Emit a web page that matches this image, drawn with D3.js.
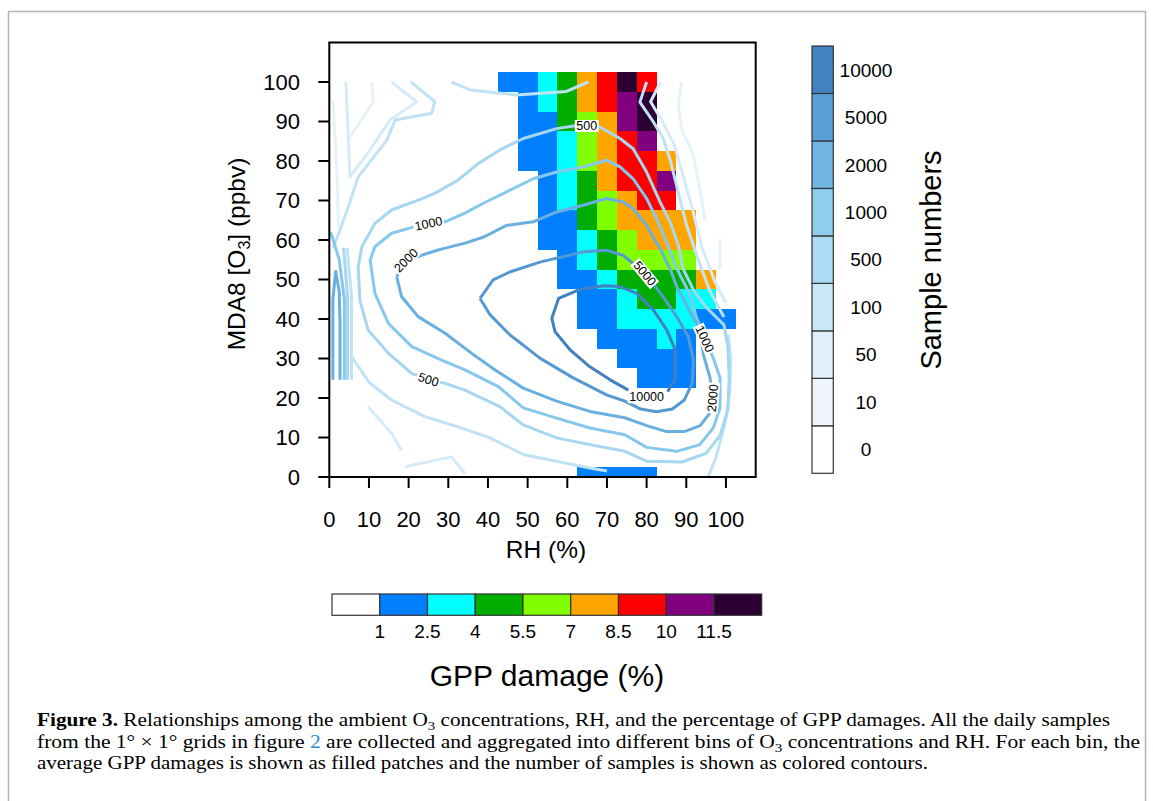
<!DOCTYPE html>
<html>
<head>
<meta charset="utf-8">
<script src="https://cdn.jsdelivr.net/npm/d3@7"></script>
<style>
body { margin: 0; background: #fff; }
text { font-family: "Liberation Sans", Arial, Helvetica, sans-serif; fill: #000; }
</style>
</head>
<body>
<svg id="fig" width="1153" height="801"></svg>
<script>
// bin centres
var rhBins = [45, 50, 55, 60, 65, 70, 75, 80, 85, 90, 95, 100];
var o3Bins = [100, 95, 90, 85, 80, 75, 70, 65, 60, 55, 50, 45, 40, 35, 30, 25, 20, 15, 10, 5, 0];

// mean GPP damage (%) per bin, rows follow o3Bins, columns follow rhBins
var gppDamage = [
  [1.8, 1.8, 3.2, 4.7, 7.7, 9.2, 12.3, 9.2, null, null, null, null],
  [null, 1.8, 3.2, 4.7, 7.7, 9.2, 10.7, 12.3, null, null, null, null],
  [null, 1.8, 1.8, 4.7, 6.2, 7.7, 10.7, 12.3, null, null, null, null],
  [null, 1.8, 1.8, 3.2, 6.2, 7.7, 9.2, 10.7, null, null, null, null],
  [null, 1.8, 1.8, 3.2, 6.2, 7.7, 9.2, 9.2, 7.7, null, null, null],
  [null, null, 1.8, 3.2, 4.7, 7.7, 9.2, 9.2, 10.7, null, null, null],
  [null, null, 1.8, 3.2, 4.7, 6.2, 7.7, 9.2, 9.2, null, null, null],
  [null, null, 1.8, 1.8, 4.7, 6.2, 7.7, 7.7, 7.7, 7.7, null, null],
  [null, null, 1.8, 1.8, 3.2, 4.7, 6.2, 7.7, 7.7, 7.7, null, null],
  [null, null, null, 1.8, 3.2, 4.7, 6.2, 6.2, 6.2, 6.2, null, null],
  [null, null, null, 1.8, 1.8, 3.2, 4.7, 4.7, 4.7, 4.7, 7.7, null],
  [null, null, null, null, 1.8, 1.8, 3.2, 4.7, 4.7, 3.2, 3.2, null],
  [null, null, null, null, 1.8, 1.8, 3.2, 3.2, 3.2, 3.2, 1.8, 1.8],
  [null, null, null, null, null, 1.8, 1.8, 1.8, 3.2, 1.8, null, null],
  [null, null, null, null, null, null, 1.8, 1.8, 1.8, 1.8, null, null],
  [null, null, null, null, null, null, null, 1.8, 1.8, 1.8, null, null],
  [null, null, null, null, null, null, null, null, null, null, null, null],
  [null, null, null, null, null, null, null, null, null, null, null, null],
  [null, null, null, null, null, null, null, null, null, null, null, null],
  [null, null, null, null, null, null, null, null, null, null, null, null],
  [null, null, null, null, 1.8, 1.8, 1.8, 1.8, null, null, null, null]
];

var gppBreaks = [1, 2.5, 4, 5.5, 7, 8.5, 10, 11.5];
var gppColors = ['#ffffff', '#0080ff', '#00ffff', '#00ad00', '#80ff00', '#ffa500', '#ff0000', '#800080', '#2d0033'];

var sampleLevels = [0, 10, 50, 100, 500, 1000, 2000, 5000, 10000];
var sampleColors = ['#ffffff', '#eef6fc', '#dff0fa', '#c8e7f7', '#acdcf3', '#8ecff0', '#70b5e3', '#5aa0d8', '#4282c2'];
var lineColors = {10: '#e6f2fa', 50: '#d6ebf8', 100: '#c0e2f5', 500: '#a6d7f1', 1000: '#86c8ed', 2000: '#69afe0', 5000: '#5699d2', 10000: '#4280bf'};

// sample-number contours, [RH, O3]
var c10000 = [[75.4,22.0],[70.8,24.6],[65.7,27.9],[60.7,32.2],[56.9,36.8],[56.1,40.2],[57.8,45.2],[63.2,47.5],[69.1,48.4],[73.3,48.2],[77.5,46.5],[81.7,42.3],[85.1,37.2],[87.2,32.2],[87.2,25.0],[85.3,21.6]];
var c5000 = [[38.0,45.2],[41.3,49.9],[45.5,51.9],[53.1,54.4],[64.0,57.0],[69.9,57.4],[74.1,56.1],[79.6,51.6],[83.8,46.1],[87.6,40.6],[90.5,35.5],[91.8,29.6],[91.5,23.7],[89.5,19.5],[86.5,17.2],[82.5,16.5],[78.5,17.2],[74.5,19.2],[69.9,20.8],[61.5,25.1],[53.1,30.1],[45.5,36.0],[40.5,41.1],[38.0,45.2]];
var c2000 = [[17.0,50.7],[19.3,54.9],[22.9,56.0],[27.5,57.5],[34.2,59.2],[38.8,60.7],[44.7,63.7],[51.4,64.6],[57.3,67.1],[64.0,68.8],[69.9,70.5],[74.1,69.6],[76.6,67.9],[80.0,63.7],[83.4,57.8],[85.9,52.7],[87.6,48.2],[90.9,41.9],[93.4,37.7],[94.3,31.0],[96.0,25.1],[96.6,20.0],[95.8,16.0],[93.5,13.0],[89.5,11.5],[85.0,11.5],[80.0,13.0],[74.5,15.0],[65.7,16.6],[57.3,19.2],[48.9,22.5],[41.8,27.1],[35.9,31.3],[29.2,36.4],[22.4,40.6],[18.2,45.7],[17.0,50.7]];
var c2000b = [[0.9,24.6],[0.9,45.0],[1.6,52.0],[2.5,47.0],[2.7,38.9],[2.7,24.6]];
var c1000 = [[25.0,64.2],[29.2,64.6],[34.2,66.8],[39.2,69.5],[44.7,72.2],[51.4,75.5],[57.3,77.2],[64.0,78.5],[69.9,80.2],[73.3,78.5],[76.6,75.5],[80.0,70.5],[82.5,65.4],[85.0,59.5],[87.6,52.8],[90.9,46.2],[92.6,40.3],[94.7,35.0],[96.8,30.1],[98.5,25.1],[98.5,17.5],[96.8,12.4],[93.4,8.2],[87.6,6.5],[80.0,7.5],[74.5,10.7],[65.7,12.4],[57.3,14.9],[48.9,17.5],[42.6,22.9],[34.2,27.1],[28.3,29.6],[20.8,33.0],[14.9,38.9],[11.5,46.5],[10.3,54.9],[11.5,58.3],[15.7,61.7],[21.6,63.4],[25.0,64.2]];
var c1000b = [[3.8,24.6],[3.8,45.0],[2.5,55.0],[1.0,60.0],[0.3,62.0]];
var c500 = [[64.9,89.0],[68.2,88.6],[73.3,85.7],[76.6,83.1],[80.0,77.2],[83.4,69.6],[85.9,64.6],[88.0,58.6],[89.2,52.7],[92.0,47.0],[95.0,43.0],[97.5,40.5],[99.5,38.5],[100.5,33.0],[100.8,25.0],[100.5,17.0],[98.5,10.5],[95.0,6.0],[89.0,3.8],[80.0,4.0],[74.5,6.5],[65.7,8.2],[57.3,9.9],[48.9,13.2],[43.0,17.8],[34.2,22.0],[29.2,23.7],[25.0,24.7],[20.8,26.2],[14.9,31.3],[9.8,37.2],[7.7,44.8],[7.3,53.2],[8.2,58.3],[11.5,64.2],[15.7,67.6],[22.4,70.1],[26.6,71.8],[32.5,75.2],[37.6,79.4],[43.0,82.8],[48.9,85.7],[57.3,88.2],[62.4,89.0],[64.9,89.0]];
var c500b = [[4.6,24.6],[4.6,45.7],[3.6,58.0]];
var c100a = [[30.8,100.0],[35.5,98.0],[47.2,96.7],[59.8,97.6],[65.3,100.0]];
var c100b = [[20.6,100.0],[26.6,95.0],[25.8,92.1],[16.6,90.4],[14.5,85.3],[7.3,76.0],[4.8,68.4],[2.5,62.0],[1.0,58.0]];
var c100c = [[5.6,30.5],[10.0,24.0],[15.7,19.5],[24.1,15.3],[32.5,12.7],[40.5,9.9],[48.9,5.7],[57.3,4.0],[65.7,2.3],[70.0,1.5]];
var c100d = [[80.0,100.0],[78.3,94.9],[81.7,89.9],[84.2,85.7],[86.0,80.0],[88.0,72.0],[90.0,64.0],[93.0,55.0],[96.0,47.0],[99.5,40.5]];
var c100e = [[5.6,24.6],[5.6,45.7],[4.5,58.0]];
var c100f = [[95.5,0.0],[97.5,5.0],[99.8,13.7],[101.0,22.0],[101.2,30.0],[100.6,36.0]];
var c50a = [[83.5,100.0],[81.0,95.0],[84.0,90.0],[87.0,84.0],[89.0,77.0],[91.5,68.0],[94.0,58.0],[97.0,50.0],[100.0,44.0]];
var c50b = [[15.7,100.0],[22.0,95.0],[15.3,90.4],[10.3,82.8],[5.2,76.0],[4.4,95.0],[4.2,100.0]];
var c50c = [[9.8,17.8],[15.7,11.1],[18.2,6.8]];
var c50d = [[19.1,2.6],[30.8,5.1],[34.2,0.9]];
var c10a = [[88.8,100.0],[88.0,94.1],[88.8,88.2],[91.8,81.4],[93.4,73.0],[94.7,65.0]];
var c10b = [[98.5,60.3],[98.5,52.7]];
var c10c = [[10.7,100.0],[11.1,95.0],[5.2,86.0]];
var c10d = [[0.9,95.5],[1.5,85.5],[2.0,75.0],[2.3,63.0]];

var contourLabels = [
  {text: '500', rh: 64.9, o3: 89.0, angle: 0},
  {text: '1000', rh: 25.0, o3: 64.2, angle: -12},
  {text: '2000', rh: 19.3, o3: 54.9, angle: -45},
  {text: '500', rh: 25.0, o3: 24.7, angle: 18},
  {text: '5000', rh: 79.6, o3: 51.6, angle: 50},
  {text: '10000', rh: 80.0, o3: 20.3, angle: 0},
  {text: '1000', rh: 94.7, o3: 35.0, angle: 65},
  {text: '2000', rh: 96.6, o3: 20.0, angle: -85}
];

var xTicks = [0, 10, 20, 30, 40, 50, 60, 70, 80, 90, 100];
var yTicks = [0, 10, 20, 30, 40, 50, 60, 70, 80, 90, 100];

var svg = d3.select('#fig');

// page frame
svg.append('rect')
  .attr('x', 8.5).attr('y', 11.5)
  .attr('width', 1137).attr('height', 800)
  .attr('fill', 'none').attr('stroke', '#b4b4b4').attr('stroke-width', 1.5);

var x = d3.scaleLinear().domain([0, 107.5]).range([329.3, 755.7]);
var y = d3.scaleLinear().domain([0, 110]).range([477, 42.5]);

svg.append('clipPath').attr('id', 'plotclip')
  .append('rect')
  .attr('x', x(0)).attr('y', y(110))
  .attr('width', x(107.5) - x(0)).attr('height', y(0) - y(110));

var plot = svg.append('g').attr('clip-path', 'url(#plotclip)');

var gppColor = d3.scaleThreshold().domain(gppBreaks).range(gppColors);

// filled bins
var cells = [];
o3Bins.forEach(function(o3, i) {
  rhBins.forEach(function(rh, j) {
    var v = gppDamage[i][j];
    if (v !== null) cells.push({rh: rh, o3: o3, v: v});
  });
});

plot.selectAll('rect.cell')
  .data(cells)
  .enter()
  .append('rect')
  .attr('class', 'cell')
  .attr('x', d => x(d.rh - 2.5))
  .attr('y', d => y(d.o3 + 2.5))
  .attr('width', d => x(d.rh + 2.5) - x(d.rh - 2.5))
  .attr('height', d => y(d.o3 - 2.5) - y(d.o3 + 2.5))
  .attr('fill', d => gppColor(d.v))
  .attr('shape-rendering', 'crispEdges');

// contour lines
var contourLines = [
  {level: 10, pts: c10a}, {level: 10, pts: c10b}, {level: 10, pts: c10c}, {level: 10, pts: c10d},
  {level: 50, pts: c50a}, {level: 50, pts: c50b}, {level: 50, pts: c50c}, {level: 50, pts: c50d},
  {level: 100, pts: c100a}, {level: 100, pts: c100b}, {level: 100, pts: c100c}, {level: 100, pts: c100d}, {level: 100, pts: c100e}, {level: 100, pts: c100f},
  {level: 500, pts: c500}, {level: 500, pts: c500b},
  {level: 1000, pts: c1000}, {level: 1000, pts: c1000b},
  {level: 2000, pts: c2000}, {level: 2000, pts: c2000b},
  {level: 5000, pts: c5000},
  {level: 10000, pts: c10000}
];

var line = d3.line().x(d => x(d[0])).y(d => y(d[1]));

plot.selectAll('path.cline')
  .data(contourLines)
  .enter()
  .append('path')
  .attr('class', 'cline')
  .attr('d', d => line(d.pts))
  .attr('fill', 'none')
  .attr('stroke', d => lineColors[d.level])
  .attr('stroke-width', 3)
  .attr('stroke-linejoin', 'round')
  .attr('stroke-linecap', 'butt');

// contour labels with white boxes
var lab = plot.selectAll('g.clab')
  .data(contourLabels)
  .enter()
  .append('g')
  .attr('class', 'clab')
  .attr('transform', d => `translate(${x(d.rh)},${y(d.o3)}) rotate(${d.angle})`);

lab.append('rect')
  .attr('fill', '#fff');
lab.append('text')
  .attr('text-anchor', 'middle')
  .attr('dy', '0.36em')
  .attr('font-size', '12.5px')
  .text(d => d.text);
lab.each(function() {
  var g = d3.select(this);
  var bb = g.select('text').node().getBBox();
  g.select('rect')
    .attr('x', bb.x - 1.5).attr('y', bb.y + 1)
    .attr('width', bb.width + 3).attr('height', bb.height - 2);
});

// axes
var axisG = svg.append('g');
axisG.selectAll('line.xt')
  .data(xTicks).enter().append('line')
  .attr('x1', d => x(d)).attr('x2', d => x(d))
  .attr('y1', y(0)).attr('y2', y(0) + 11)
  .attr('stroke', '#000').attr('stroke-width', 2);
axisG.selectAll('text.xl')
  .data(xTicks).enter().append('text')
  .attr('x', d => x(d)).attr('y', 527)
  .attr('text-anchor', 'middle')
  .attr('font-size', '22px')
  .text(d => d);
axisG.selectAll('line.yt')
  .data(yTicks).enter().append('line')
  .attr('x1', x(0) - 11).attr('x2', x(0))
  .attr('y1', d => y(d)).attr('y2', d => y(d))
  .attr('stroke', '#000').attr('stroke-width', 2);
axisG.selectAll('text.yl')
  .data(yTicks).enter().append('text')
  .attr('x', 300).attr('y', d => y(d))
  .attr('dy', '0.36em')
  .attr('text-anchor', 'end')
  .attr('font-size', '22px')
  .text(d => d);

svg.append('rect')
  .attr('x', x(0)).attr('y', y(110))
  .attr('width', x(107.5) - x(0)).attr('height', y(0) - y(110))
  .attr('fill', 'none').attr('stroke', '#000').attr('stroke-width', 2);

svg.append('text')
  .attr('x', 546).attr('y', 558)
  .attr('text-anchor', 'middle')
  .attr('font-size', '24.5px')
  .text('RH (%)');

var yTitle = svg.append('text')
  .attr('transform', 'translate(245,254) rotate(-90)')
  .attr('text-anchor', 'middle')
  .attr('font-size', '24.5px');
yTitle.append('tspan').text('MDA8 [O');
yTitle.append('tspan').attr('font-size', '16px').attr('dy', 5).text('3');
yTitle.append('tspan').attr('dy', -5).text('] (ppbv)');

// sample number colour bar
var sbTop = 46, sbBot = 473.3;
var sb = d3.scaleBand().domain(d3.range(sampleLevels.length)).range([sbBot, sbTop]);
var sbG = svg.append('g');
sbG.selectAll('rect')
  .data(sampleLevels).enter().append('rect')
  .attr('x', 812).attr('width', 21.3)
  .attr('y', (d, i) => sb(i)).attr('height', sb.bandwidth())
  .attr('fill', (d, i) => sampleColors[i])
  .attr('stroke', '#333').attr('stroke-width', 1.2);
sbG.selectAll('text')
  .data(sampleLevels).enter().append('text')
  .attr('x', 866).attr('y', (d, i) => sb(i) + sb.bandwidth() / 2)
  .attr('dy', '0.36em')
  .attr('text-anchor', 'middle')
  .attr('font-size', '19px')
  .text(d => d);
svg.append('text')
  .attr('transform', 'translate(941,260) rotate(-90)')
  .attr('text-anchor', 'middle')
  .attr('font-size', '29px')
  .text('Sample numbers');

// GPP damage colour bar
var gb = d3.scaleBand().domain(d3.range(gppColors.length)).range([332, 761.7]);
var gbG = svg.append('g');
gbG.selectAll('rect')
  .data(gppColors).enter().append('rect')
  .attr('x', (d, i) => gb(i)).attr('width', gb.bandwidth())
  .attr('y', 594).attr('height', 21.3)
  .attr('fill', d => d)
  .attr('stroke', '#333').attr('stroke-width', 1.2);
gbG.selectAll('text')
  .data(gppBreaks).enter().append('text')
  .attr('x', (d, i) => gb(i + 1)).attr('y', 631)
  .attr('dy', '0.36em')
  .attr('text-anchor', 'middle')
  .attr('font-size', '19px')
  .text(d => d);
svg.append('text')
  .attr('x', 547).attr('y', 686)
  .attr('text-anchor', 'middle')
  .attr('font-size', '30px')
  .text('GPP damage (%)');

// caption
var captionLines = [
  [{t: 'Figure 3.', bold: true}, {t: ' Relationships among the ambient O'}, {t: '3', sub: true}, {t: ' concentrations, RH, and the percentage of GPP damages. All the daily samples'}],
  [{t: 'from the 1° × 1° grids in figure '}, {t: '2', link: true}, {t: ' are collected and aggregated into different bins of O'}, {t: '3', sub: true}, {t: ' concentrations and RH. For each bin, the'}],
  [{t: 'average GPP damages is shown as filled patches and the number of samples is shown as colored contours.'}]
];
var captionEnds = [1110, 1140, 928];
var captionBase = [726, 748, 769];
var capX = 37;
var capFs = 18.3;

function writeLine(el, parts, fs) {
  var shifted = false;
  parts.forEach(function(p) {
    var ts = el.append('tspan').text(p.t);
    if (p.bold) ts.attr('font-weight', 'bold');
    if (p.link) ts.style('fill', '#2b8ccc');
    if (p.sub) { ts.attr('font-size', (fs * 0.7) + 'px').attr('dy', fs * 0.2); shifted = true; }
    else if (shifted) { ts.attr('dy', -fs * 0.2); shifted = false; }
  });
}

var capG = svg.append('g');
captionLines.forEach(function(parts, i) {
  var t = capG.append('text')
    .attr('x', capX).attr('y', captionBase[i])
    .attr('font-size', capFs + 'px')
    .style('font-family', '"Liberation Serif", "Times New Roman", serif');
  writeLine(t, parts, capFs);
  t.attr('textLength', captionEnds[i] - capX).attr('lengthAdjust', 'spacingAndGlyphs');
});
</script>
</body>
</html>
